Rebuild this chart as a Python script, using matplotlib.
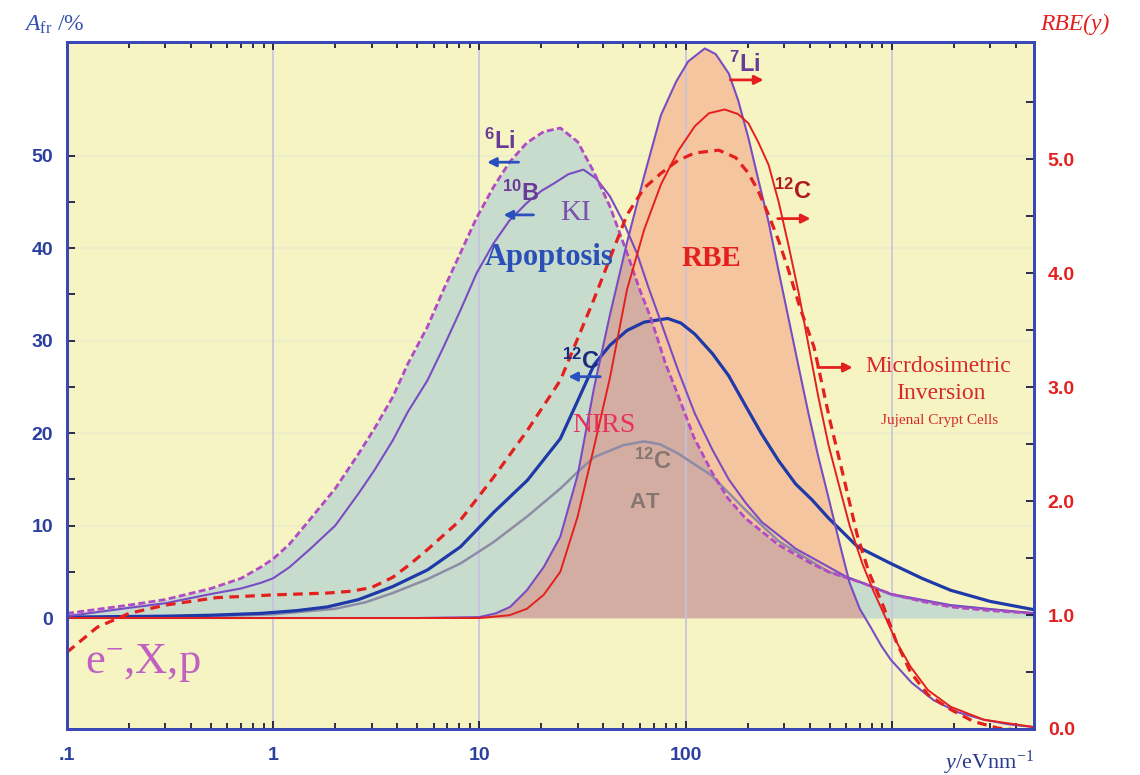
import numpy as np
import matplotlib
matplotlib.use('Agg')
import matplotlib.pyplot as plt
from matplotlib.ticker import FixedLocator, LogLocator, NullFormatter

plt.rcParams['mathtext.fontset'] = 'custom'
plt.rcParams['mathtext.rm'] = 'Liberation Serif'
plt.rcParams['mathtext.it'] = 'Liberation Serif:italic'
plt.rcParams['mathtext.bf'] = 'Liberation Sans:bold'

# lineal energy y (eV/nm) and A_fr (%) for each curve
li6_x = [0.1, 0.2, 0.3, 0.5, 0.7, 0.87, 1.0, 1.2, 1.5, 2.0, 2.6, 3.1, 3.8, 4.5, 5.6, 6.7, 8.1, 9.7, 11.7,
         14, 17, 20.5, 24.7, 30, 36, 43, 52, 60, 68, 80, 92, 110, 134, 160, 195, 283, 400, 494, 720,
         990, 1400, 1930, 3000, 4900]
li6_y = [0.5, 1.4, 2.0, 3.2, 4.3, 5.5, 6.4, 8.0, 10.6, 14.0, 17.8, 20.5, 23.9, 27.5, 31.5, 35.5, 39.5, 43.3, 46.6,
         49.3, 51.4, 52.6, 53.0, 51.5, 48.2, 44.5, 39.5, 35.5, 32.4, 27.5, 24.1, 19.5, 15.8, 13.0, 10.8, 7.9, 6.0, 5.0, 3.8,
         2.6, 1.8, 1.2, 0.8, 0.5]

b10_x = [0.1, 0.2, 0.3, 0.5, 0.7, 0.87, 1.0, 1.2, 1.5, 2.0, 2.6, 3.1, 3.8, 4.5, 5.6, 6.7, 8.1, 9.7, 11.7,
         14, 17, 20, 23, 27, 32, 37, 43, 50, 58, 66, 76, 92, 111, 135, 162, 195, 234, 342, 598, 990,
         1930, 4900]
b10_y = [0.2, 1.1, 1.6, 2.6, 3.2, 3.8, 4.3, 5.5, 7.4, 10.0, 13.5, 16.0, 19.2, 22.3, 25.7, 29.3, 33.3, 37.3, 40.5,
         43.0, 44.9, 46.2, 47.0, 48.0, 48.5, 47.5, 45.6, 42.8, 39.5, 35.8, 32.0, 26.8, 22.1, 18.2, 15.0, 12.5, 10.4, 7.5, 4.5, 2.6,
         1.4, 0.5]

li7_x = [0.1, 1, 5, 10, 12, 14.1, 17, 20.5, 24.7, 30, 36, 43, 52, 63, 76, 90, 103, 124, 140, 162, 180,
         202, 225, 253, 283, 316, 355, 395, 440, 494, 560, 625, 700, 791, 890, 989, 1250, 1600, 2100,
         2800, 3700, 4900]
li7_y = [0, 0, 0, 0.1, 0.5, 1.2, 3.0, 5.5, 8.8, 15.5, 24.9, 32.8, 40.6, 47.8, 54.4, 58.0, 60.2, 61.6, 61.0, 58.9, 56.0,
         51.9, 47.5, 42.8, 37.5, 32.4, 27.0, 22.1, 17.5, 13.0, 8.0, 3.8, 1.0, -1.0, -3.0, -4.5, -7.0, -8.9, -10.2,
         -11.0, -11.5, -11.8]

c12_x = [0.1, 0.3, 0.5, 0.87, 1.3, 1.83, 2.6, 3.8, 5.6, 8.1, 11.7, 17.1, 24.7, 30, 36, 43, 52, 63, 82, 95,
         111, 135, 162, 195, 234, 283, 342, 410, 494, 684, 989, 1400, 1933, 3000, 4900]
c12_y = [0.1, 0.2, 0.3, 0.5, 0.8, 1.2, 2.0, 3.4, 5.2, 7.7, 11.4, 14.9, 19.4, 23.5, 27.4, 29.5, 31.1, 32.0, 32.4, 31.9,
         30.7, 28.6, 26.2, 23.0, 19.9, 17.0, 14.5, 12.8, 10.8, 7.7, 5.9, 4.3, 3.0, 1.8, 0.9]

at_x = [0.1, 0.5, 1, 2, 2.8, 3.8, 5.6, 8.1, 11.7, 17.1, 24.7, 30, 36, 50, 63, 75, 92, 134, 195, 283,
        494, 723, 1000, 1933, 4900]
at_y = [0.05, 0.2, 0.4, 1.0, 1.7, 2.7, 4.2, 5.9, 8.2, 11.0, 14.0, 15.8, 17.4, 18.7, 19.1, 18.8, 17.8, 15.4, 11.7, 8.3,
        5.0, 3.8, 2.5, 1.3, 0.5]

rbe_x = [0.1, 1, 5, 10, 14, 17, 20.5, 24.7, 30, 36, 43, 52, 63, 76, 92, 111, 130, 155, 180, 202, 225,
         253, 283, 316, 355, 395, 440, 494, 547, 625, 723, 820, 914, 1050, 1237, 1500, 1933, 2800, 4900]
rbe_y = [0, 0, 0, 0, 0.3, 1.0, 2.5, 5.0, 11.0, 18.5, 26.0, 35.5, 42.0, 46.9, 50.5, 53.2, 54.6, 55.0, 54.5, 53.5, 51.5,
         49.0, 45.0, 40.3, 35.0, 29.5, 24.0, 18.7, 14.9, 10.0, 5.8, 2.8, 0.5, -2.5, -5.3, -7.8, -9.6, -11.0, -11.8]

inv_x = [0.1, 0.14, 0.2, 0.3, 0.53, 1.0, 1.83, 2.4, 3.0, 3.8, 4.6, 5.6, 8.1, 11.7, 17.1, 24.7, 36, 52, 63,
         76, 92, 111, 145, 175, 202, 225, 253, 283, 313, 360, 420, 500, 585, 680, 774, 914, 1050, 1237,
         1500, 1933, 2500, 3273, 4900]
inv_y = [-3.7, -1.0, 0.5, 1.4, 2.2, 2.5, 2.7, 2.9, 3.3, 4.4, 5.8, 7.4, 10.6, 15.2, 20.3, 25.7, 34.5, 43.6, 46.5,
         48.1, 49.5, 50.3, 50.6, 49.8, 48.1, 46.2, 43.6, 40.8, 37.9, 33.5, 29.3, 21.5, 15.2, 9.0, 5.0, 1.2, -2.5, -5.9,
         -8.3, -9.9, -11.2, -11.9, -12.3]

left_ticks = [0, 10, 20, 30, 40, 50]
rbe_ticks = [0, 1, 2, 3, 4, 5]
x_ticks = [0.1, 1, 10, 100, 1000]
x_labels = ['.1', '1', '10', '100', '']

BLUE = '#2b3f9e'
RED = '#e3201e'
SPINE = '#3848b8'

fig = plt.figure(figsize=(11.4, 7.75), dpi=100)
ax = fig.add_axes([0.0588, 0.0594, 0.8482, 0.8864])
ax.set_facecolor('#f5f4c2')
ax.set_xscale('log')
ax.set_xlim(0.1, 4900)
ax.set_ylim(-12.0, 62.3)

# shaded areas: 6Li spectrum, 7Li spectrum and their overlap
teal = ax.fill_between(li6_x, 0, li6_y, color='#c8dccd', lw=0, zorder=1)
li7_arr = np.array(li7_y)
ax.fill_between(li7_x, 0, li7_arr, where=li7_arr > 0, interpolate=True,
                color='#f5c59f', lw=0, zorder=1.1)
overlap = ax.fill_between(li7_x, 0, li7_arr, where=li7_arr > 0, interpolate=True,
                          color='#d3ada1', lw=0, zorder=1.2)
overlap.set_clip_path(teal.get_paths()[0], ax.transData)

for v in [1, 10, 100, 1000]:
    ax.axvline(v, color='#c6c2e2', lw=1.2, zorder=1.5)
for h in left_ticks[1:]:
    ax.axhline(h, color='#efecc8', lw=1.5, zorder=0.8)

ax.plot(at_x, at_y, color='#8d8ca6', lw=1.8, zorder=3)
ax.plot(c12_x, c12_y, color='#1f3aa8', lw=2.3, zorder=4)
ax.plot(b10_x, b10_y, color='#7a4cc4', lw=1.5, zorder=4)
ax.plot(li6_x, li6_y, color='#b24ac6', lw=2.0, ls=(0, (2.5, 1.2)), zorder=4)
ax.plot(li7_x, li7_y, color='#7a4cc4', lw=1.5, zorder=5)
ax.plot(rbe_x, rbe_y, color=RED, lw=1.4, zorder=5)
ax.plot(inv_x, inv_y, color=RED, lw=2.3, ls=(0, (3, 2)), zorder=5)

# axes, ticks
ax.set_xticks(x_ticks, x_labels, fontfamily='Liberation Sans', fontweight='bold',
              fontsize=14, color=BLUE)
ax.xaxis.set_minor_locator(LogLocator(base=10, subs=np.arange(2, 10)))
ax.xaxis.set_minor_formatter(NullFormatter())
ax.set_yticks(left_ticks, [str(t) for t in left_ticks], fontfamily='Liberation Sans',
              fontweight='bold', fontsize=14, color=BLUE)
ax.yaxis.set_minor_locator(FixedLocator([5, 15, 25, 35, 45]))
ax.tick_params(axis='x', which='both', direction='in', top=True, color='#1c1c3c', width=1.3, pad=13)
ax.tick_params(axis='x', which='major', length=6)
ax.tick_params(axis='x', which='minor', length=4)
ax.tick_params(axis='y', which='both', direction='in', length=6, color='#1c1c3c', width=1.3, pad=10)

ax2 = ax.twinx()
ax2.set_ylim(0, 6.03)
ax2.set_yticks(rbe_ticks, ['%.1f' % t for t in rbe_ticks], fontfamily='Liberation Sans',
               fontweight='bold', fontsize=14, color=RED)
ax2.yaxis.set_minor_locator(FixedLocator([0.5, 1.5, 2.5, 3.5, 4.5, 5.5]))
ax2.tick_params(axis='y', which='both', direction='in', length=6, color='#1c1c3c', width=1.3, pad=10)

for a in (ax, ax2):
    for s in a.spines.values():
        s.set_color(SPINE)
        s.set_linewidth(2)

# axis titles
fig.text(0.048, 0.968, r'$\mathit{A}_{\mathrm{fr}}$ /%', color='#3050b0', fontsize=17,
         fontfamily='Liberation Serif', ha='center', va='center')
fig.text(0.943, 0.968, 'RBE(y)', color=RED, fontsize=17, fontfamily='Liberation Serif',
         fontstyle='italic', ha='center', va='center')
fig.text(0.868, 0.016, r'$\mathit{y}$/eVnm$^{\mathrm{-1}}$', color='#2a3a8a', fontsize=16,
         fontfamily='Liberation Serif', ha='center', va='center')


def label(x, y, s, color, size, **kw):
    ax.text(x, y, s, color=color, fontsize=size, ha='center', va='center', zorder=7, **kw)


def arrow(x0, x1, y, color):
    ax.annotate('', xy=(x1, y), xytext=(x0, y), zorder=7,
                arrowprops=dict(arrowstyle='-|>', color=color, lw=2, mutation_scale=13,
                                shrinkA=0, shrinkB=0))


label(12.6, 51.6, r'$\mathbf{^{6}Li}$', '#6a3a9a', 17)
arrow(15.5, 10.9, 49.3, '#2a50c0')
label(15.8, 45.9, r'$\mathbf{^{10}B}$', '#6a3a9a', 17)
arrow(18.3, 13.1, 43.6, '#2a50c0')
label(29.2, 43.8, 'KI', '#7a50b0', 21, fontfamily='Liberation Serif')
label(21.9, 39.0, 'Apoptosis', '#2a50b8', 22, fontfamily='Liberation Serif', fontweight='bold')
label(133.7, 38.9, 'RBE', RED, 21, fontfamily='Liberation Serif', fontweight='bold')
label(193, 59.9, r'$\mathbf{^{7}Li}$', '#6a3a9a', 17)
arrow(165, 239, 58.2, RED)
label(330, 46.2, r'$\mathbf{^{12}C}$', '#b01c1c', 17)
arrow(280, 404, 43.2, RED)
label(30.9, 27.8, r'$\mathbf{^{12}C}$', '#1a2a80', 17)
arrow(38.6, 27.0, 26.1, '#2a50c0')
label(40, 20.8, 'NIRS', '#e8305a', 20, fontfamily='Liberation Serif')
label(69.2, 16.9, r'$\mathbf{^{12}C}$', '#857672', 17)
label(63.2, 12.6, r'$\mathbf{AT}$', '#857672', 16)
label(1690, 27.2, 'Micrdosimetric', '#d8282a', 17, fontfamily='Liberation Serif')
label(1730, 24.3, 'Inversion', '#d8282a', 17, fontfamily='Liberation Serif')
label(1700, 21.4, 'Jujenal Crypt Cells', '#d8282a', 11, fontfamily='Liberation Serif')
arrow(438, 647, 27.1, RED)
ax.text(0.234, -5.9, r'e$^{\mathrm{-}}$,X,p', color='#c060c0', fontsize=32,
        fontfamily='Liberation Serif', ha='center', va='baseline', zorder=7)

fig.savefig('out.png', dpi=100, facecolor='white')
